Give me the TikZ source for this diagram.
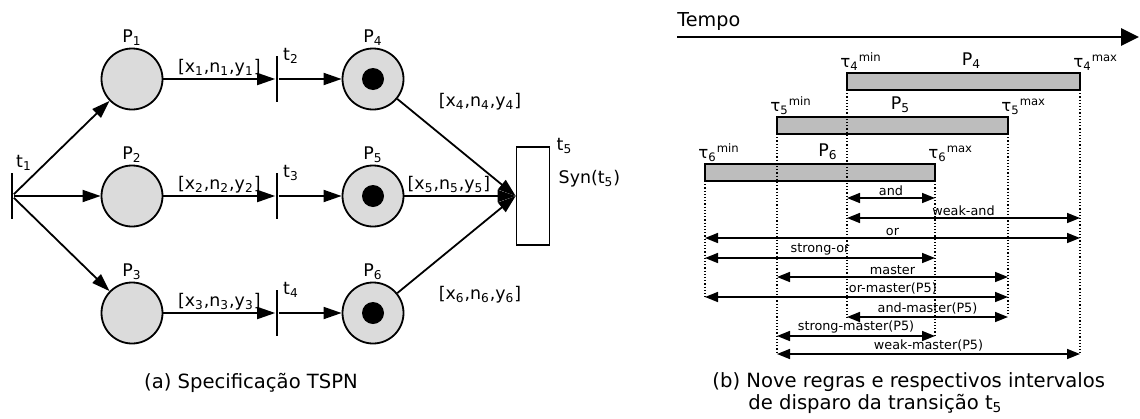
\documentclass[tikz,border=0pt]{standalone}
\usepackage{fontspec}
\setmainfont{DejaVu Sans}
\usetikzlibrary{positioning}
\usetikzlibrary{arrows.meta}

\tikzset{
  place/.style={circle, draw, line width=0.9pt, fill=gray!28, minimum size=30.5pt, inner sep=0pt},
  token/.style={circle, fill=black, minimum size=11pt, inner sep=0pt},
  trans/.style={rectangle, fill=black, minimum width=1.4pt, minimum height=23pt, inner sep=0pt},
  syncbox/.style={rectangle, draw, line width=0.8pt, fill=white, minimum width=16.5pt, minimum height=49pt, inner sep=0pt},
  flow/.style={line width=0.9pt, -{Triangle[length=9pt,width=6pt]}},
  lab/.style={font=\fontsize{8.7}{10}\selectfont, inner sep=1pt},
  bar/.style={rectangle, draw, line width=0.8pt, fill=gray!52, minimum height=8.5pt, inner sep=0pt, outer sep=0pt, anchor=north west},
  guide/.style={densely dotted, line width=0.6pt},
  span/.style={line width=0.8pt, {Triangle[length=6.5pt,width=5pt]}-{Triangle[length=6.5pt,width=5pt]}},
  tag/.style={font=\fontsize{6.4}{7}\selectfont, above, inner sep=1pt},
  tau/.style={font=\fontsize{8.3}{9}\selectfont, anchor=south west, inner sep=1pt},
  caption/.style={font=\fontsize{9.8}{11}\selectfont},
}

\begin{document}
\begin{tikzpicture}[x=0.5pt, y=-0.5pt, on grid]
    \useasboundingbox (0,0) rectangle (1140,418);

    \node[trans, label={[lab, anchor=south west]north east:t\textsubscript{1}}] (t1) at (12,196) {};
    \node[place, right=60pt of t1, label={[lab]above:P\textsubscript{2}}] (p2) {};
    \node[place, above=58.5pt of p2, label={[lab]above:P\textsubscript{1}}] (p1) {};
    \node[place, below=58.5pt of p2, label={[lab]above:P\textsubscript{3}}] (p3) {};

    \node[trans, right=72.5pt of p1, label={[lab, anchor=west, inner sep=2pt]north east:t\textsubscript{2}}] (t2) {};
    \node[trans, right=72.5pt of p2, label={[lab, anchor=west, inner sep=2pt]north east:t\textsubscript{3}}] (t3) {};
    \node[trans, right=72.5pt of p3, label={[lab, anchor=west, inner sep=2pt]north east:t\textsubscript{4}}] (t4) {};

    \node[place, right=48pt of t2, label={[lab]above:P\textsubscript{4}}] (p4) {};
    \node[place, right=48pt of t3, label={[lab]above:P\textsubscript{5}}] (p5) {};
    \node[place, right=48pt of t4, label={[lab]above:P\textsubscript{6}}] (p6) {};
    \node[token] (k4) at (p4) {};
    \node[token] (k5) at (p5) {};
    \node[token] (k6) at (p6) {};

    \node[syncbox, right=80pt of p5, label={[lab, anchor=west, inner sep=3pt]north east:t\textsubscript{5}}] (t5) {};
    \node[lab, anchor=west] (syn) at ([xshift=3pt, yshift=8.5pt]t5.east) {Syn(t\textsubscript{5})};

    \draw[flow] (t1) -- (p1);
    \draw[flow] (t1) -- (p2);
    \draw[flow] (t1) -- (p3);
    \draw[flow] (p1) -- node[lab, above] {[x\textsubscript{1},n\textsubscript{1},y\textsubscript{1}]} (t2);
    \draw[flow] (p2) -- node[lab, above] {[x\textsubscript{2},n\textsubscript{2},y\textsubscript{2}]} (t3);
    \draw[flow] (p3) -- node[lab, above] {[x\textsubscript{3},n\textsubscript{3},y\textsubscript{3}]} (t4);
    \draw[flow] (t2) -- (p4);
    \draw[flow] (t3) -- (p5);
    \draw[flow] (t4) -- (p6);
    \draw[flow] (p4) -- (t5.west);
    \draw[flow] (p5) -- node[lab, above, pos=0.4] {[x\textsubscript{5},n\textsubscript{5},y\textsubscript{5}]} (t5.west);
    \draw[flow] (p6) -- (t5.west);
    \node[lab] (w4) at (480,102) {[x\textsubscript{4},n\textsubscript{4},y\textsubscript{4}]};
    \node[lab] (w6) at (480,295) {[x\textsubscript{6},n\textsubscript{6},y\textsubscript{6}]};

    \node[caption] (capa) at (251,383) {(a) Specificação TSPN};

    \node[font=\fontsize{9.6}{10}\selectfont, anchor=base west, inner sep=0pt] (tempo) at (677,26) {Tempo};
    \coordinate (ax0) at (677,37);
    \coordinate (ax1) at (1139,37);
    \draw[line width=1.4pt, -{Triangle[length=9pt,width=8.5pt]}] (ax0) -- (ax1);

    \node[bar, minimum width=116.5pt, label={[lab, xshift=4pt, inner sep=2pt]above:P\textsubscript{4}}] (b4) at (847,73) {};
    \node[bar, minimum width=115.5pt, label={[lab, xshift=4pt, inner sep=2pt]above:P\textsubscript{5}}] (b5) at (777,117) {};
    \node[bar, minimum width=115pt, label={[lab, xshift=4pt, inner sep=2pt]above:P\textsubscript{6}}] (b6) at (705,164) {};

    \node[tau] (n4) at ([xshift=-4.5pt]b4.north west) {τ\textsubscript{4}\textsuperscript{min}};
    \node[tau] (x4) at ([xshift=-4.5pt]b4.north east) {τ\textsubscript{4}\textsuperscript{max}};
    \node[tau] (n5) at ([xshift=-4.5pt]b5.north west) {τ\textsubscript{5}\textsuperscript{min}};
    \node[tau] (x5) at ([xshift=-4.5pt]b5.north east) {τ\textsubscript{5}\textsuperscript{max}};
    \node[tau] (n6) at ([xshift=-4.5pt]b6.north west) {τ\textsubscript{6}\textsuperscript{min}};
    \node[tau] (x6) at ([xshift=-4.5pt]b6.north east) {τ\textsubscript{6}\textsuperscript{max}};

    \coordinate (m4) at (b4.south west);
    \coordinate (M4) at (b4.south east);
    \coordinate (m5) at (b5.south west);
    \coordinate (M5) at (b5.south east);
    \coordinate (m6) at (b6.south west);
    \coordinate (M6) at (b6.south east);
    \draw[guide] (m4) -- ++(0,228);
    \draw[guide] (M4) -- ++(0,263);
    \draw[guide] (m5) -- ++(0,218);
    \draw[guide] (M5) -- ++(0,182);
    \draw[guide] (m6) -- ++(0,116);
    \draw[guide] (M6) -- ++(0,155);

    \draw[span] (m4 |- 0,198) -- node[tag] {and} (M6 |- 0,198);
    \draw[span] (m4 |- 0,218) -- node[tag] {weak-and} (M4 |- 0,218);
    \draw[span] (m6 |- 0,238) -- node[tag] {or} (M4 |- 0,238);
    \draw[span] (m6 |- 0,258) -- node[tag] {strong-or} (M6 |- 0,258);
    \draw[span] (m5 |- 0,277) -- node[tag] {master} (M5 |- 0,277);
    \draw[span] (m6 |- 0,297) -- node[tag, pos=0.62] {or-master(P5)} (M5 |- 0,297);
    \draw[span] (m4 |- 0,317) -- node[tag] {and-master(P5)} (M5 |- 0,317);
    \draw[span] (m5 |- 0,336) -- node[tag] {strong-master(P5)} (M6 |- 0,336);
    \draw[span] (m5 |- 0,354) -- node[tag] {weak-master(P5)} (M4 |- 0,354);

    \node[caption, align=left, anchor=north west, inner sep=0pt] (capb) at (712,372)
        {(b) Nove regras e respectivos intervalos\\\hspace*{18pt}de disparo da transição t\textsubscript{5}};
\end{tikzpicture}
\end{document}
